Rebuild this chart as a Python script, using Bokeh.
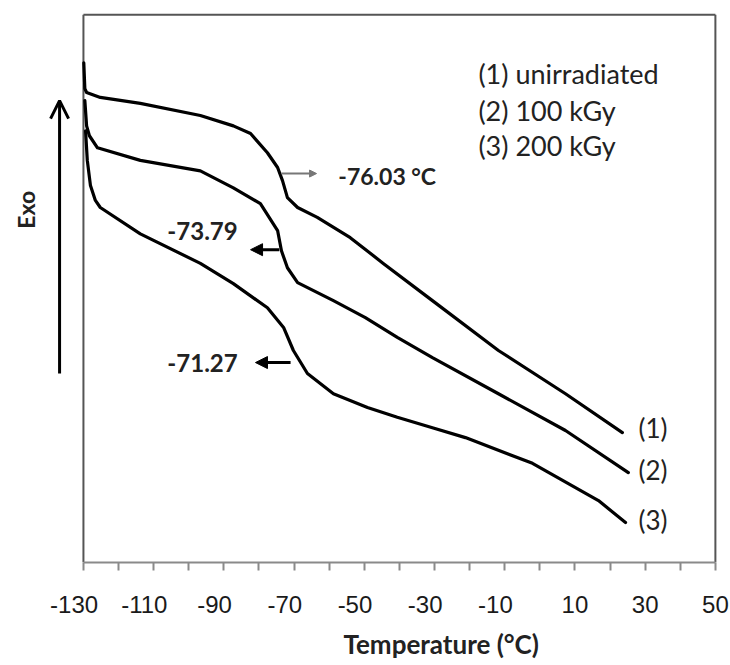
import math
from bokeh.plotting import figure
from bokeh.models import (Range1d, FixedTicker, Label, Arrow, NormalHead, OpenHead, Title)
from bokeh.embed import file_html
from bokeh.resources import INLINE

# ---- data ----
temp_1 = [-129.9, -129.6, -129.1, -125.2, -113.8, -96.7, -87.3, -82.4, -77.6, -74.7,
          -73.3, -71.9, -69.0, -63.4, -54.0, -44.6, -30.6, -11.8, 7.3, 23.5]
heat_1 = [91.2, 86.5, 85.8, 84.9, 83.8, 81.6, 79.7, 78.3, 74.8, 72.1,
          69.7, 66.6, 64.8, 63.0, 59.3, 54.6, 47.8, 38.7, 30.8, 23.7]

temp_2 = [-129.6, -129.1, -128.3, -126.0, -113.8, -96.7, -87.3, -79.6, -74.7, -73.6,
          -71.9, -69.0, -58.8, -49.7, -40.6, -30.6, -11.8, 7.3, 25.2]
heat_2 = [84.3, 79.7, 77.9, 75.7, 73.4, 71.5, 68.4, 65.5, 60.6, 56.9,
          53.8, 51.1, 47.8, 44.7, 41.1, 37.4, 30.8, 24.1, 16.4]

temp_3 = [-129.4, -128.9, -128.0, -126.6, -125.2, -113.8, -96.7, -87.3, -77.6, -73.0,
          -70.2, -66.2, -58.8, -49.1, -40.6, -30.6, -21.2, -2.1, 16.7, 24.4]
heat_3 = [78.8, 73.4, 68.8, 66.1, 64.8, 60.0, 54.6, 50.9, 46.5, 42.9,
          38.7, 34.5, 30.8, 28.3, 26.5, 24.6, 22.8, 18.1, 11.3, 7.3]

series_labels = ["(1)", "(2)", "(3)"]
series_names = ["(1) unirradiated", "(2) 100 kGy", "(3) 200 kGy"]
tg_labels = ["-76.03 \u00b0C", "-73.79", "-71.27"]

major_ticks = [-130, -110, -90, -70, -50, -30, -10, 10, 30, 50]
minor_ticks = [-120, -100, -80, -60, -40, -20, 0, 20, 40]
tick_labels = ["-130", "-110", "-90", "-70", "-50", "-30", "-10", "10", "30", "50"]

T_MIN, T_MAX = -130, 50
Y_MIN, Y_MAX = 0, 100

# ---- figure ----
p = figure(width=730, height=665, output_backend="svg", toolbar_location=None,
           x_range=Range1d(-152.2, 50.6), y_range=Range1d(0, 100.4),
           min_border_left=5, min_border_right=13, min_border_top=12,
           min_border_bottom=103)
p.background_fill_color = "white"
p.border_fill_color = "white"
p.grid.visible = False
p.outline_line_color = None

p.yaxis.visible = False
xa = p.xaxis[0]
xa.bounds = (T_MIN, T_MAX)
xa.ticker = FixedTicker(ticks=major_ticks, minor_ticks=minor_ticks)
xa.axis_line_color = "#8a8a8a"
xa.axis_line_width = 2
xa.major_tick_line_color = "#8a8a8a"
xa.minor_tick_line_color = "#8a8a8a"
xa.major_tick_line_width = 2
xa.minor_tick_line_width = 2
xa.major_tick_out = 8
xa.minor_tick_out = 8
xa.major_tick_in = 0
xa.minor_tick_in = 0
pad = "\u2002\u2008"
xa.major_label_overrides = {t: (lab + pad if t < 0 else lab)
                            for t, lab in zip(major_ticks, tick_labels)}
xa.major_label_text_font = "Liberation Sans"
xa.major_label_text_font_size = "24px"
xa.major_label_text_color = "#1a1a1a"
xa.major_label_standoff = 20

p.add_layout(Title(text="Temperature (\u00b0C)", align="left", offset=338,
                   text_font="Lato", text_font_style="bold", text_font_size="26px",
                   text_color="#222222", standoff=10), "below")

# frame lines
p.segment(x0=[T_MIN, T_MAX, T_MIN], y0=[Y_MIN, Y_MIN, Y_MAX],
          x1=[T_MIN, T_MAX, T_MAX], y1=[Y_MAX, Y_MAX, Y_MAX],
          line_color="#555555", line_width=2)

# ---- curves ----
for tx, hy in [(temp_1, heat_1), (temp_2, heat_2), (temp_3, heat_3)]:
    p.line(tx, hy, line_color="black", line_width=3.2, line_join="round", line_cap="round")

# Exo label and arrow
p.add_layout(Label(x=-146.5, y=64.4, text="Exo", angle=math.pi / 2, text_align="center",
                   text_baseline="middle", text_font="Lato", text_font_style="bold",
                   text_font_size="23px", text_color="#222222"))
p.add_layout(Arrow(x_start=-136.8, y_start=34.5, x_end=-136.8, y_end=84.3,
                   line_color="black", line_width=3,
                   end=OpenHead(size=18, line_color="black", line_width=3)))

# legend text
for name, yy in zip(series_names, [89.2, 82.5, 76.1]):
    p.add_layout(Label(x=-17.5, y=yy, text=name, text_align="left", text_baseline="middle",
                       text_font="Lato", text_font_size="27px", text_color="#222222"))

# curve end labels
for lab, yy in zip(series_labels, [24.5, 16.8, 7.7]):
    p.add_layout(Label(x=28.1, y=yy, text=lab, text_align="left", text_baseline="middle",
                       text_font="Lato", text_font_size="26px", text_color="#222222"))

# Tg annotations
p.add_layout(Label(x=-57.4, y=70.6, text=tg_labels[0], text_align="left",
                   text_baseline="middle", text_font="Lato", text_font_style="bold",
                   text_font_size="23px", text_color="#222222"))
p.add_layout(Label(x=-106.1, y=60.6, text=tg_labels[1], text_align="left",
                   text_baseline="middle", text_font="Lato", text_font_style="bold",
                   text_font_size="24px", text_color="#222222"))
p.add_layout(Label(x=-106.1, y=36.5, text=tg_labels[2], text_align="left",
                   text_baseline="middle", text_font="Lato", text_font_style="bold",
                   text_font_size="24px", text_color="#222222"))

p.add_layout(Arrow(x_start=-73.6, y_start=71.0, x_end=-63.6, y_end=71.0,
                   line_color="#777777", line_width=2,
                   end=NormalHead(size=7, fill_color="#777777", line_color="#777777")))
p.add_layout(Arrow(x_start=-74.2, y_start=57.1, x_end=-82.4, y_end=57.1,
                   line_color="black", line_width=3,
                   end=NormalHead(size=12, fill_color="black", line_color="black")))
p.add_layout(Arrow(x_start=-71.0, y_start=36.5, x_end=-81.0, y_end=36.5,
                   line_color="black", line_width=3,
                   end=NormalHead(size=12, fill_color="black", line_color="black")))

open("out.html", "w").write(file_html(p, INLINE))
